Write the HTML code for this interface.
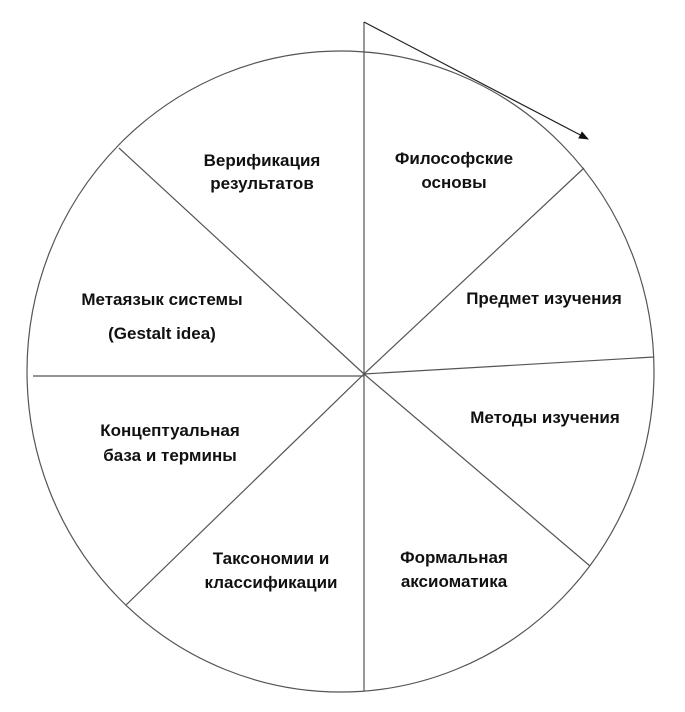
<!DOCTYPE html>
<html><head><meta charset="utf-8"><style>
html,body{margin:0;padding:0;background:#fff;}
svg{display:block;}
text{font-family:"Liberation Sans",Arial,sans-serif;font-weight:bold;font-size:17px;fill:#111;text-anchor:middle;}
</style></head><body>
<svg width="685" height="712" viewBox="0 0 685 712" xmlns="http://www.w3.org/2000/svg">
<defs><marker id="a" markerWidth="10" markerHeight="8" refX="9" refY="4" orient="auto" markerUnits="userSpaceOnUse"><path d="M0,0 L10,4 L0,8 z" fill="#111"/></marker></defs>
<g stroke="#555" stroke-width="1.2" fill="none">
<ellipse cx="340.5" cy="371.5" rx="313.5" ry="320.5"/>
<line x1="364" y1="22" x2="364" y2="691"/>
<line x1="364" y1="374" x2="584" y2="168"/>
<line x1="364" y1="374" x2="654" y2="357"/>
<line x1="364" y1="374" x2="590" y2="566"/>
<line x1="364" y1="374" x2="126" y2="605"/>
<line x1="364" y1="376" x2="33" y2="376"/>
<line x1="364" y1="374" x2="119" y2="148"/>
</g>
<line x1="364" y1="22" x2="588" y2="139" stroke="#222" stroke-width="1.2" marker-end="url(#a)"/>
<text x="262" y="166">Верификация</text>
<text x="262" y="189">результатов</text>
<text x="454" y="164">Философские</text>
<text x="454" y="188">основы</text>
<text x="544" y="304">Предмет изучения</text>
<text x="162" y="305">Метаязык системы</text>
<text x="162" y="339">(Gestalt idea)</text>
<text x="545" y="423">Методы изучения</text>
<text x="170" y="436">Концептуальная</text>
<text x="170" y="461">база и термины</text>
<text x="271" y="564">Таксономии и</text>
<text x="271" y="588">классификации</text>
<text x="454" y="563">Формальная</text>
<text x="454" y="587">аксиоматика</text>
</svg>
</body></html>
